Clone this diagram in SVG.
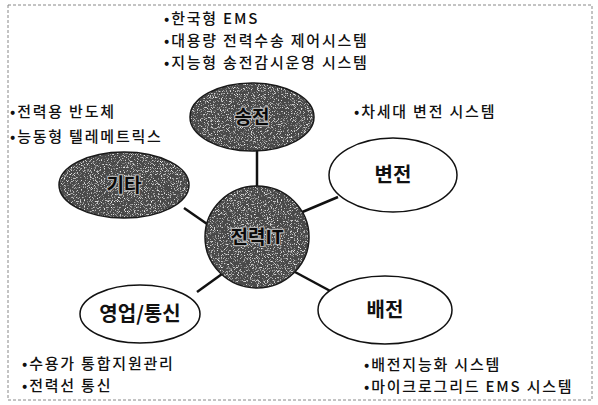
<svg xmlns="http://www.w3.org/2000/svg" width="598" height="405" viewBox="0 0 598 405">
<defs>
<filter id="grain" x="0" y="0" width="100%" height="100%">
<feTurbulence type="fractalNoise" baseFrequency="1.3" numOctaves="1" seed="5" result="n"/>
<feColorMatrix in="n" type="matrix" values="0 0 0 0 1  0 0 0 0 1  0 0 0 0 1  4 0 0 0 -2.2" result="m"/>
<feComposite in="m" in2="SourceGraphic" operator="in" result="g"/>
<feMerge><feMergeNode in="SourceGraphic"/><feMergeNode in="g"/></feMerge>
</filter>
<style>
.dark{fill:#484848}
.ring{fill:none;stroke:#1a1a1a;stroke-width:1.5}
.light{fill:#ffffff;stroke:#111;stroke-width:1.5}
.lbl{font-family:"Noto Sans CJK KR","Noto Sans",sans-serif;font-size:20px;font-weight:bold;text-anchor:middle;fill:#111}
.dlbl{font-family:"Noto Sans CJK KR","Noto Sans",sans-serif;font-size:19px;font-weight:bold;text-anchor:middle;fill:#0a0a0a;stroke:#b0b0b0;stroke-width:2.4;paint-order:stroke;stroke-linejoin:round}
.txt{font-family:"Noto Sans CJK KR","Noto Sans",sans-serif;font-size:15px;font-weight:500;letter-spacing:1.8px;fill:#111}
.con{stroke:#111;stroke-width:2.5;fill:none}
</style>
</defs>
<rect x="8" y="5" width="584" height="395" fill="#fff" stroke="#888" stroke-width="1" stroke-dasharray="3,2"/>
<g id="connectors">
<line class="con" x1="257" y1="151" x2="257" y2="187"/>
<line class="con" x1="184" y1="208" x2="210" y2="226"/>
<line class="con" x1="300" y1="213" x2="338" y2="197"/>
<line class="con" x1="222" y1="274" x2="197" y2="292"/>
<line class="con" x1="295" y1="272" x2="334" y2="293"/>
</g>
<g id="node-songjeon">
<ellipse class="dark" cx="252" cy="117" rx="62" ry="34" filter="url(#grain)"/>
<ellipse class="ring" cx="252" cy="117" rx="62" ry="34"/>
<text class="dlbl" x="252" y="124">송전</text>
</g>
<g id="node-gita">
<ellipse class="dark" cx="124" cy="185" rx="65" ry="33" filter="url(#grain)"/>
<ellipse class="ring" cx="124" cy="185" rx="65" ry="33"/>
<text class="dlbl" x="124" y="192">기타</text>
</g>
<g id="node-center">
<ellipse class="dark" cx="257" cy="237" rx="52" ry="51" filter="url(#grain)"/>
<ellipse class="ring" cx="257" cy="237" rx="52" ry="51"/>
<text class="dlbl" x="257" y="244">전력IT</text>
</g>
<g id="node-byeonjeon">
<ellipse class="light" cx="393" cy="175" rx="64" ry="37"/>
<text class="lbl" x="393" y="182">변전</text>
</g>
<g id="node-sales">
<ellipse class="light" cx="140" cy="314" rx="60" ry="29"/>
<text class="lbl" x="140" y="321">영업/통신</text>
</g>
<g id="node-baejeon">
<ellipse class="light" cx="385" cy="310" rx="67" ry="34"/>
<text class="lbl" x="385" y="317">배전</text>
</g>
<g id="texts">
<text class="txt" x="164" y="24">•한국형 EMS</text>
<text class="txt" x="164" y="46">•대용량 전력수송 제어시스템</text>
<text class="txt" x="164" y="68">•지능형 송전감시운영 시스템</text>
<text class="txt" x="10" y="117">•전력용 반도체</text>
<text class="txt" x="10" y="142">•능동형 텔레메트릭스</text>
<text class="txt" x="354" y="117">•차세대 변전 시스템</text>
<text class="txt" x="22" y="369">•수용가 통합지원관리</text>
<text class="txt" x="22" y="391">•전력선 통신</text>
<text class="txt" x="364" y="370">•배전지능화 시스템</text>
<text class="txt" x="364" y="392">•마이크로그리드 EMS 시스템</text>
</g>
</svg>
